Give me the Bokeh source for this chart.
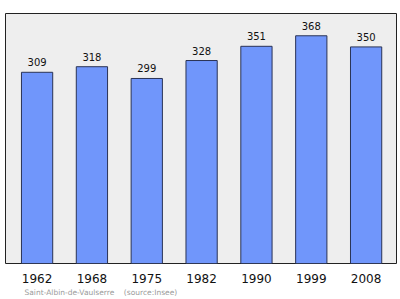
from bokeh.plotting import figure
from bokeh.models import Title, FixedTicker
from bokeh.core.properties import value
from bokeh.embed import file_html
from bokeh.resources import INLINE

years = ["1962", "1968", "1975", "1982", "1990", "1999", "2008"]
population = [309, 318, 299, 328, 351, 368, 350]
footer = "Saint-Albin-de-Vaulserre\u00a0\u00a0\u00a0\u00a0(source:Insee)"

xs = list(range(len(years)))

p = figure(width=400, height=299, output_backend="svg", toolbar_location=None,
           x_range=(-0.576, 6.554), y_range=(0, 404),
           min_border_left=5, min_border_right=4, min_border_top=13, min_border_bottom=36)
p.background_fill_color = "#eeeeee"
p.border_fill_color = "white"
p.outline_line_color = "#222222"
p.outline_line_width = 1
p.xgrid.visible = False
p.ygrid.visible = False
p.yaxis.visible = False

p.vbar(x=xs, top=population, width=0.57, bottom=0,
       fill_color="#7096fb", line_color="#2a3355", line_width=1)

p.text(x=xs, y=population, text=[str(v) for v in population],
       text_align="center", text_baseline="bottom", y_offset=-6,
       text_font=value("DejaVu Sans"), text_font_size="10px", text_color="#111111")

ax = p.xaxis[0]
ax.ticker = FixedTicker(ticks=xs)
ax.major_label_overrides = {i: y for i, y in zip(xs, years)}
ax.axis_line_color = None
ax.major_tick_line_color = None
ax.minor_tick_line_color = None
ax.major_tick_out = 0
ax.major_tick_in = 0
ax.major_label_standoff = 10
ax.major_label_text_font = "DejaVu Sans"
ax.major_label_text_font_size = "12px"
ax.major_label_text_color = "#111111"

p.add_layout(Title(text=footer, align="left", offset=19, standoff=0,
                   text_font="DejaVu Sans", text_font_size="7.5px",
                   text_font_style="normal", text_color="#9a9a9a"), "below")

open("out.html", "w").write(file_html(p, INLINE))
